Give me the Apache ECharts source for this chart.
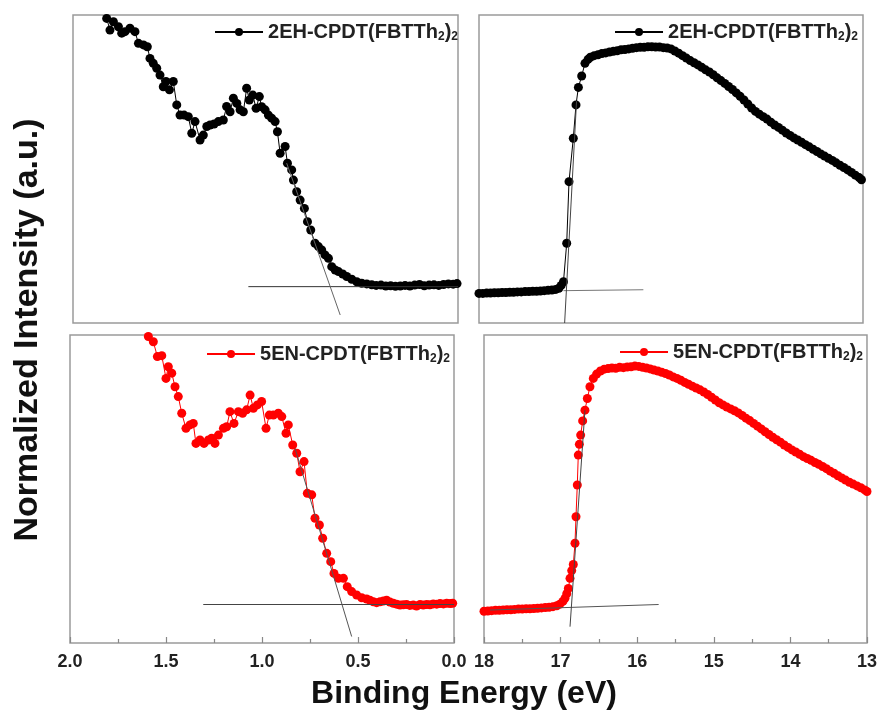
<!DOCTYPE html>
<html><head><meta charset="utf-8">
<script src="https://cdn.jsdelivr.net/npm/echarts@6/dist/echarts.min.js"></script>
<style>html,body{margin:0;padding:0;background:#fff}#c{width:880px;height:713px}</style>
</head><body><div id="c"></div>
<script>
// ---- data: [binding energy (eV), normalized intensity] ----
const TL = [[1.825,98.9],[1.808,95.1],[1.790,97.8],[1.764,96.2],[1.747,94.1],[1.730,94.6],[1.704,95.7],[1.678,94.6],[1.660,90.8],[1.634,90.3],[1.614,89.7],[1.600,85.9],[1.583,84.3],[1.565,82.7],[1.548,80.5],[1.531,76.7],[1.517,78.4],[1.499,75.7],[1.479,78.4],[1.461,70.8],[1.444,67.5],[1.423,67.5],[1.401,67.0],[1.383,61.6],[1.366,65.4],[1.340,59.4],[1.323,61.0],[1.305,63.8],[1.288,64.3],[1.267,64.6],[1.245,65.4],[1.219,65.9],[1.202,70.3],[1.184,68.6],[1.167,73.0],[1.149,71.3],[1.132,69.2],[1.115,68.6],[1.098,76.2],[1.084,72.4],[1.066,74.0],[1.049,69.7],[1.032,73.5],[1.020,70.2],[1.002,69.2],[0.985,67.5],[0.968,66.5],[0.950,65.4],[0.938,62.1],[0.924,55.1],[0.898,57.3],[0.886,51.9],[0.864,49.7],[0.855,46.4],[0.838,42.6],[0.820,39.9],[0.798,37.2],[0.782,32.9],[0.765,30.2],[0.743,25.9],[0.725,24.8],[0.708,23.7],[0.691,22.1],[0.673,21.0],[0.656,18.3],[0.638,17.2],[0.621,16.7],[0.599,15.9],[0.578,15.1],[0.552,14.2],[0.526,13.4],[0.500,12.9],[0.474,12.7],[0.448,12.4],[0.425,12.2],[0.400,12.3],[0.375,12.0],[0.350,12.1],[0.325,11.9],[0.300,12.0],[0.275,12.2],[0.250,12.0],[0.225,12.3],[0.200,12.5],[0.175,12.1],[0.150,12.3],[0.125,12.4],[0.100,12.2],[0.075,12.5],[0.050,12.7],[0.025,12.6],[0.005,12.8]];
const TL_BASE = [[1.089,11.8],[0.0,11.8]];
const TL_EDGE = [[0.890,51.9],[0.612,2.6]];

const TR = [[18.00,9.6],[17.95,9.6],[17.90,9.7],[17.85,9.7],[17.80,9.8],[17.75,9.8],[17.70,9.9],[17.65,9.9],[17.60,10.0],[17.55,10.0],[17.50,10.1],[17.45,10.1],[17.40,10.2],[17.35,10.2],[17.30,10.3],[17.25,10.3],[17.20,10.4],[17.15,10.5],[17.10,10.6],[17.05,10.7],[17.00,10.9],[16.96,11.3],[16.93,12.2],[16.90,13.4],[16.858,25.9],[16.828,45.9],[16.772,60.0],[16.737,70.8],[16.706,76.5],[16.663,80.2],[16.620,84.3],[16.58,85.6],[16.55,86.3],[16.50,86.8],[16.45,87.1],[16.40,87.5],[16.35,87.7],[16.30,88.0],[16.25,88.2],[16.20,88.4],[16.15,88.7],[16.10,88.8],[16.05,89.0],[16.00,89.2],[15.95,89.4],[15.90,89.5],[15.85,89.5],[15.80,89.7],[15.75,89.7],[15.70,89.6],[15.65,89.6],[15.60,89.4],[15.55,89.3],[15.50,89.0],[15.45,88.3],[15.40,87.6],[15.35,86.8],[15.30,86.0],[15.25,85.2],[15.20,84.5],[15.15,83.8],[15.10,83.0],[15.05,82.2],[15.00,81.5],[14.95,80.6],[14.90,79.6],[14.85,78.7],[14.80,77.8],[14.75,76.8],[14.70,75.8],[14.65,74.7],[14.60,73.6],[14.55,72.4],[14.50,71.1],[14.45,69.8],[14.40,68.7],[14.35,67.8],[14.30,67.0],[14.25,66.2],[14.20,65.2],[14.15,64.3],[14.10,63.5],[14.05,62.6],[14.00,61.7],[13.95,60.9],[13.90,60.1],[13.85,59.4],[13.80,58.7],[13.75,57.9],[13.70,57.2],[13.65,56.4],[13.60,55.7],[13.55,54.9],[13.50,54.2],[13.45,53.5],[13.40,52.8],[13.35,52.0],[13.30,51.2],[13.25,50.5],[13.20,49.7],[13.15,48.9],[13.10,48.0],[13.05,47.2],[13.02,46.5]];
const TR_BASE = [[16.90,10.5],[15.86,10.8]];
const TR_EDGE = [[16.885,0],[16.73,72]];

const BL = [[1.592,99.5],[1.566,97.8],[1.545,93.0],[1.522,93.3],[1.500,85.9],[1.488,89.7],[1.470,87.6],[1.453,83.2],[1.436,80.0],[1.418,74.6],[1.396,69.7],[1.375,70.8],[1.358,71.3],[1.344,64.8],[1.323,65.9],[1.302,64.8],[1.279,65.9],[1.262,66.5],[1.245,64.8],[1.227,67.5],[1.201,69.7],[1.184,70.2],[1.167,75.1],[1.146,71.3],[1.123,75.1],[1.101,74.6],[1.080,75.7],[1.062,80.5],[1.045,76.2],[1.024,77.3],[1.002,78.4],[0.979,69.7],[0.962,74.0],[0.941,74.0],[0.915,74.6],[0.897,73.5],[0.875,68.1],[0.863,70.8],[0.840,64.3],[0.819,61.6],[0.802,55.6],[0.781,58.9],[0.764,48.6],[0.741,48.1],[0.724,40.5],[0.701,38.3],[0.684,34.0],[0.663,29.1],[0.642,26.4],[0.625,22.6],[0.602,21.0],[0.576,21.0],[0.556,18.3],[0.533,16.7],[0.507,15.6],[0.481,14.7],[0.455,14.3],[0.438,13.9],[0.420,13.4],[0.403,13.1],[0.385,13.4],[0.368,13.6],[0.351,13.9],[0.334,13.3],[0.316,12.9],[0.299,12.6],[0.281,12.3],[0.264,12.4],[0.247,12.5],[0.230,12.2],[0.212,12.3],[0.195,12.0],[0.177,12.5],[0.160,12.3],[0.142,12.5],[0.125,12.4],[0.108,12.7],[0.090,12.6],[0.073,12.8],[0.055,12.7],[0.038,12.9],[0.020,12.8],[0.007,12.9]];
const BL_BASE = [[1.306,12.5],[0.0,12.5]];
const BL_EDGE = [[0.828,63.2],[0.533,2.1]];

const BR = [[18.00,10.3],[17.95,10.4],[17.90,10.5],[17.85,10.6],[17.80,10.6],[17.75,10.7],[17.70,10.8],[17.65,10.8],[17.60,10.9],[17.55,11.0],[17.50,11.0],[17.45,11.1],[17.40,11.1],[17.35,11.2],[17.30,11.3],[17.25,11.4],[17.20,11.5],[17.15,11.6],[17.10,11.8],[17.05,12.1],[17.01,12.6],[16.97,13.5],[16.943,14.5],[16.92,16.0],[16.899,17.7],[16.877,21.0],[16.855,23.5],[16.834,25.5],[16.812,32.4],[16.799,41.0],[16.782,51.3],[16.769,61.0],[16.755,64.5],[16.738,67.5],[16.712,72.1],[16.682,75.6],[16.651,79.4],[16.617,83.2],[16.573,85.9],[16.53,87.3],[16.48,88.3],[16.43,88.9],[16.38,89.1],[16.33,89.3],[16.28,89.2],[16.23,89.5],[16.18,89.4],[16.13,89.6],[16.08,89.7],[16.03,89.9],[15.98,89.8],[15.93,89.5],[15.88,89.3],[15.83,89.0],[15.78,88.6],[15.73,88.3],[15.68,87.9],[15.63,87.5],[15.58,87.0],[15.53,86.4],[15.48,85.9],[15.43,85.3],[15.38,84.6],[15.33,84.0],[15.28,83.4],[15.23,82.8],[15.18,82.2],[15.13,81.5],[15.08,80.7],[15.03,79.8],[14.98,78.9],[14.93,78.0],[14.88,77.3],[14.83,76.6],[14.78,76.0],[14.73,75.4],[14.68,74.7],[14.63,73.9],[14.58,73.0],[14.53,72.2],[14.48,71.3],[14.43,70.4],[14.38,69.5],[14.33,68.6],[14.28,67.7],[14.23,66.8],[14.18,66.0],[14.13,65.2],[14.08,64.3],[14.03,63.5],[13.98,62.7],[13.93,62.0],[13.88,61.3],[13.83,60.5],[13.78,59.9],[13.73,59.3],[13.68,58.6],[13.63,58.0],[13.58,57.3],[13.53,56.6],[13.48,55.8],[13.43,55.1],[13.38,54.3],[13.33,53.6],[13.28,52.9],[13.23,52.2],[13.18,51.6],[13.13,51.0],[13.08,50.4],[13.03,49.7],[13.00,49.2]];
const BR_BASE = [[17.92,10.7],[15.72,12.5]];
const BR_EDGE = [[16.877,5.3],[16.682,75.6]];

const LEFT_TICKS = ['2.0','1.5','1.0','0.5','0.0'];
const RIGHT_TICKS = ['18','17','16','15','14','13'];
const LEGEND_TEXT = {
  A: '{m|2EH-CPDT(FBTTh}{s|2}{m|)}{s|2}',
  B: '{m|2EH-CPDT(FBTTh}{s|2}{m|)}{s|2}',
  C: '{m|5EN-CPDT(FBTTh}{s|2}{m|)}{s|2}',
  D: '{m|5EN-CPDT(FBTTh}{s|2}{m|)}{s|2}'
};
const X_TITLE = 'Binding Energy (eV)';
const Y_TITLE = 'Normalized Intensity (a.u.)';

const FONT = 'Liberation Sans, Arial, sans-serif';
const chart = echarts.init(document.getElementById('c'), null, {renderer:'canvas'});

const grids = [
  {left:73, top:15, width:385, height:308},
  {left:479, top:15, width:384, height:308},
  {left:70, top:335, width:384, height:308},
  {left:484, top:335, width:383, height:308}
].map(g => Object.assign({show:true, borderColor:'#9a9a9a', borderWidth:1.5, backgroundColor:'transparent'}, g));

function xAx(gi, min, max, interval, labels) {
  const show = labels !== null;
  return {
    type:'value', gridIndex:gi, min:min, max:max, interval:interval, inverse:true,
    axisLine:{show:false},
    splitLine:{show:false},
    axisTick:{show:show, inside:true, length:6, lineStyle:{color:'#888', width:1.2}},
    minorTick:{show:show, splitNumber:2, length:4, lineStyle:{color:'#888', width:1.2}},
    axisLabel:{show:show, margin:10, fontSize:18, fontWeight:'bold', fontFamily:FONT, color:'#222',
      showMinLabel:true, showMaxLabel:true,
      formatter: v => {
        if (!labels) return '';
        const s = (labels === LEFT_TICKS) ? v.toFixed(1) : String(Math.round(v));
        return labels.indexOf(s) >= 0 ? s : '';
      }}
  };
}
function yAx(gi) {
  return {type:'value', gridIndex:gi, min:0, max:100, show:false, splitLine:{show:false}};
}

function dataSeries(name, idx, data, color) {
  return {type:'line', name:name, xAxisIndex:idx, yAxisIndex:idx, data:data,
    symbol:'circle', symbolSize:9, showSymbol:true,
    itemStyle:{color:color}, lineStyle:{color:color, width:1}, z:3, animation:false};
}
function fitSeries(idx, data, color) {
  return {type:'line', xAxisIndex:idx, yAxisIndex:idx, data:data, symbol:'none',
    lineStyle:{color:color, width:1}, z:4, silent:true, animation:false};
}

function legend(name, right, top) {
  return {
    data:[name], right:right, top:top, padding:0, itemWidth:48, itemHeight:10, itemGap:0,
    selectedMode:false, formatter: n => LEGEND_TEXT[n],
    textStyle:{rich:{
      m:{fontSize:20, fontWeight:'bold', fontFamily:FONT, color:'#222', lineHeight:22, verticalAlign:'middle'},
      s:{fontSize:12, fontWeight:'bold', fontFamily:FONT, color:'#222', lineHeight:22, verticalAlign:'bottom'}
    }}
  };
}

const option = {
  animation:false,
  backgroundColor:'#fff',
  grid: grids,
  xAxis: [xAx(0,0,2,0.5,null), xAx(1,13,18,1,null), xAx(2,0,2,0.5,LEFT_TICKS), xAx(3,13,18,1,RIGHT_TICKS)],
  yAxis: [yAx(0), yAx(1), yAx(2), yAx(3)],
  legend: [legend('A',422,22), legend('B',22,22), legend('C',430,344), legend('D',17,342)],
  series: [
    dataSeries('A',0,TL,'#000'), fitSeries(0,TL_BASE,'#333'), fitSeries(0,TL_EDGE,'#666'),
    dataSeries('B',1,TR,'#000'), fitSeries(1,TR_BASE,'#777'), fitSeries(1,TR_EDGE,'#444'),
    dataSeries('C',2,BL,'#ff0000'), fitSeries(2,BL_BASE,'#444'), fitSeries(2,BL_EDGE,'#555'),
    dataSeries('D',3,BR,'#ff0000'), fitSeries(3,BR_BASE,'#555'), fitSeries(3,BR_EDGE,'#444')
  ],
  graphic: [
    {type:'text', x:464, y:694, style:{text:X_TITLE, fontSize:32, fontWeight:'bold', fontFamily:FONT, fill:'#111', align:'center', verticalAlign:'middle'}},
    {type:'text', x:28, y:330, rotation:Math.PI/2, style:{text:Y_TITLE, fontSize:34, fontWeight:'bold', fontFamily:FONT, fill:'#111', align:'center', verticalAlign:'middle'}}
  ]
};
chart.setOption(option);
</script>
</body></html>
